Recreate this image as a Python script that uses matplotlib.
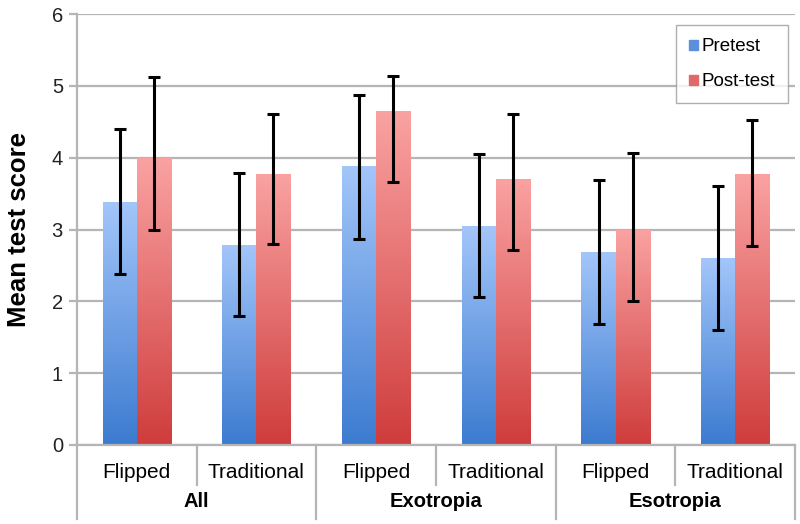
import matplotlib
matplotlib.use("Agg")
import matplotlib.pyplot as plt
import matplotlib.transforms as mtransforms
from matplotlib.colors import LinearSegmentedColormap
from matplotlib.lines import Line2D
import numpy as np

plt.rcParams['font.family'] = ['Liberation Sans', 'DejaVu Sans']

groups = ["All", "Exotropia", "Esotropia"]
subcats = ["Flipped", "Traditional", "Flipped", "Traditional", "Flipped", "Traditional"]
series = ["Pretest", "Post-test"]

pre_mean = [3.39, 2.79, 3.88, 3.05, 2.68, 2.60]
pre_low = [2.38, 1.79, 2.87, 2.06, 1.69, 1.60]
pre_high = [4.40, 3.79, 4.88, 4.05, 3.69, 3.61]

post_mean = [4.00, 3.78, 4.65, 3.71, 3.00, 3.77]
post_low = [3.00, 2.80, 3.66, 2.71, 2.00, 2.77]
post_high = [5.13, 4.61, 5.14, 4.61, 4.06, 4.53]

yticks = [0, 1, 2, 3, 4, 5, 6]

fig = plt.figure(figsize=(8.0, 5.24), dpi=100)
ax = fig.add_axes([0.096, 0.151, 0.898, 0.822])

n = len(subcats)
x = np.arange(n)
w = 0.285
grid_c = "#b5b5b5"

ax.set_xlim(-0.5, n - 0.5)
ax.set_ylim(0, 6)
ax.set_yticks(yticks)
ax.yaxis.grid(True, color=grid_c, linewidth=1.6, zorder=0)
ax.set_axisbelow(True)

cmap_blue = LinearSegmentedColormap.from_list("b", ["#3c7bd0", "#a3c6fa"])
cmap_red = LinearSegmentedColormap.from_list("r", ["#cf3c3c", "#faa2a2"])
grad = np.linspace(0, 1, 256).reshape(-1, 1)

def gradient_bars(xs, vals, cmap):
    bars = ax.bar(xs, vals, width=w, color="none", edgecolor="none", zorder=2)
    for b in bars:
        x0 = b.get_x()
        bw, bh = b.get_width(), b.get_height()
        im = ax.imshow(grad, cmap=cmap, aspect="auto", origin="lower",
                       extent=[x0, x0 + bw, 0, bh], zorder=2, interpolation="bilinear")
        im.set_clip_path(b)
    return bars

gradient_bars(x - w / 2, pre_mean, cmap_blue)
gradient_bars(x + w / 2, post_mean, cmap_red)
ax.set_xlim(-0.5, n - 0.5)
ax.set_ylim(0, 6)

def errs(m, lo, hi):
    return [np.array(m) - np.array(lo), np.array(hi) - np.array(m)]

ek = dict(fmt="none", ecolor="black", elinewidth=2.2, capsize=4, capthick=2.2, zorder=4)
ax.errorbar(x - w / 2, pre_mean, yerr=errs(pre_mean, pre_low, pre_high), **ek)
ax.errorbar(x + w / 2, post_mean, yerr=errs(post_mean, post_low, post_high), **ek)

for s in ["top", "right"]:
    ax.spines[s].set_visible(False)
ax.spines["left"].set_color(grid_c)
ax.spines["left"].set_linewidth(1.6)
ax.spines["bottom"].set_color(grid_c)
ax.spines["bottom"].set_linewidth(1.6)

ax.tick_params(axis="y", length=6, width=1.6, color=grid_c, labelsize=14.5, pad=4)
ax.set_xticks(x)
ax.set_xticklabels(subcats, fontsize=15)
ax.tick_params(axis="x", length=0, pad=13)
for lab in ax.get_yticklabels():
    lab.set_color("#222222")

ax.set_ylabel("Mean test score", fontsize=18.5, fontweight="bold", labelpad=15)

trans = mtransforms.blended_transform_factory(ax.transData, ax.transAxes)
px = 1.0 / (0.822 * 524)
for b in np.arange(-0.5, n, 1.0):
    is_group = (round(b + 0.5) % 2 == 0)
    yend = -74 * px if is_group else -40 * px
    ax.add_line(Line2D([b, b], [0, yend], transform=trans, color=grid_c,
                       linewidth=1.6, clip_on=False))
for gi, g in enumerate(groups):
    ax.text(2 * gi + 0.5, -57 * px, g, transform=trans, ha="center", va="center",
            fontsize=14.5, fontweight="bold")

handles = [plt.Rectangle((0, 0), 1, 1, color="#5b8fdc"),
           plt.Rectangle((0, 0), 1, 1, color="#e06a6a")]
leg = ax.legend(handles, series, loc="upper right", bbox_to_anchor=(0.99, 0.974),
                fontsize=13.5, frameon=True, fancybox=False, handlelength=0.45,
                handleheight=0.45, handletextpad=0.2, labelspacing=0.95,
                borderpad=0.7, borderaxespad=0.0)
leg.get_frame().set_edgecolor("#9a9a9a")
leg.get_frame().set_linewidth(1.0)

fig.savefig("out.png", dpi=100)
